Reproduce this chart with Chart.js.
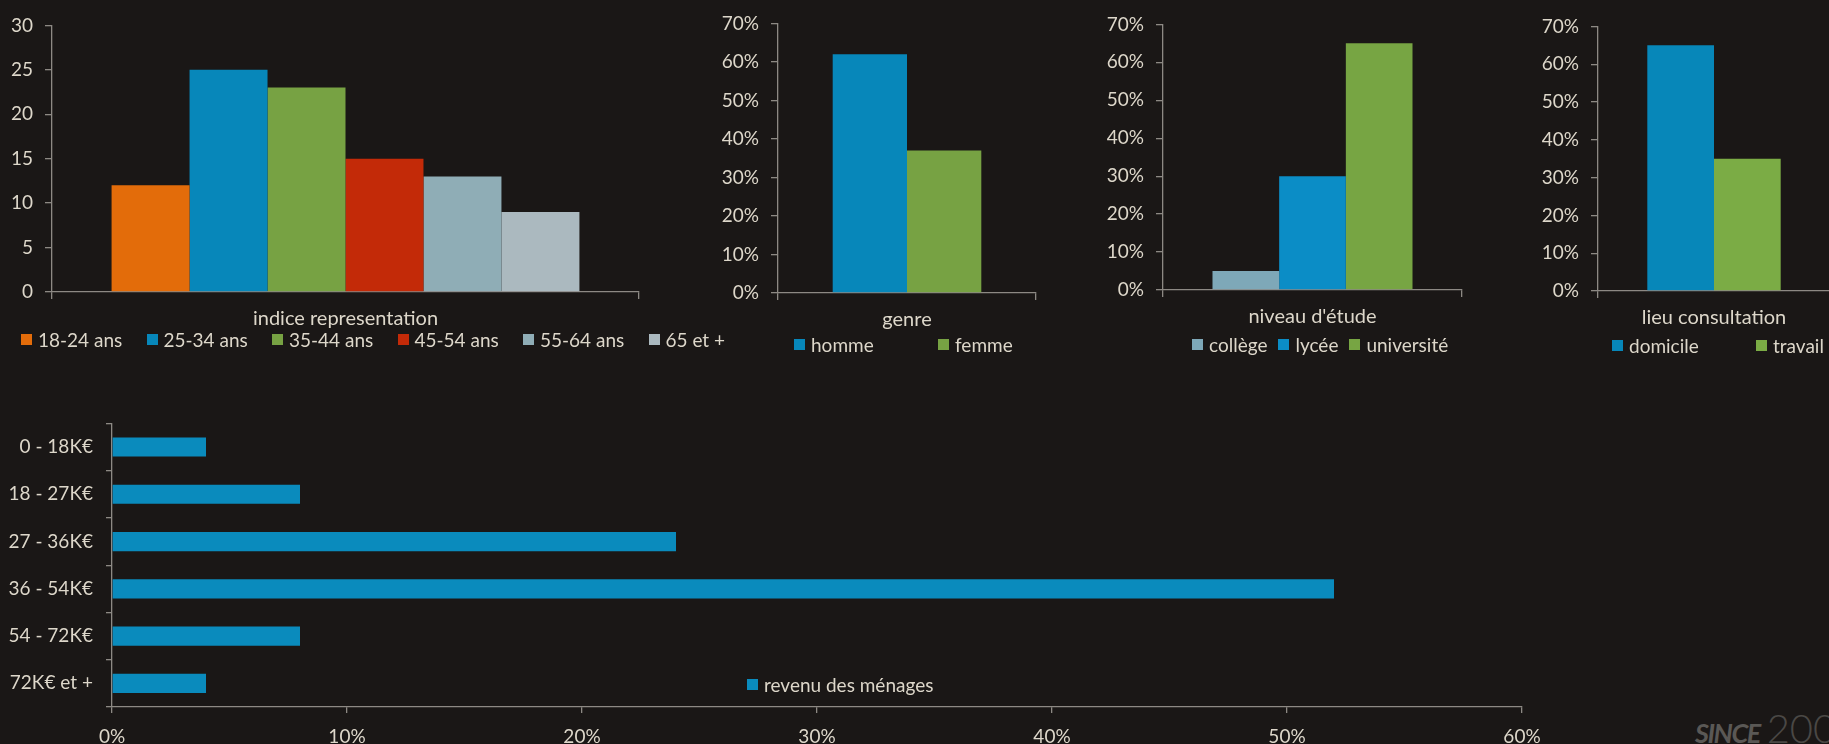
<!DOCTYPE html>
<html>
<head>
<meta charset="utf-8">
<script src="https://cdn.jsdelivr.net/npm/chart.js@4.4.0/dist/chart.umd.min.js"></script>
<style>
  body { margin: 0; width: 1829px; height: 744px; overflow: hidden; position: relative;
         background: #1a1716; font-family: Lato, "Open Sans", sans-serif; color: #ddd7ca; }
  .wrap { position: absolute; }
  .legend { position: absolute; display: flex; font-size: 19px; line-height: 19px; white-space: nowrap; }
  .legend .item { display: inline-flex; align-items: center; }
  .legend i { display: inline-block; width: 11px; height: 11px; margin-right: 6px; }
  .since { position: absolute; left: 1695px; top: 704px; white-space: nowrap; color: #5a5855; }
  .since b { font-style: italic; font-size: 27px; letter-spacing: -1.5px; }
  .since span { font-weight: 300; font-size: 40px; color: #4a4845; margin-left: 7px; }
</style>
</head>
<body>

<div class="wrap" id="w1"><canvas id="c1"></canvas></div>
<div class="wrap" id="w2"><canvas id="c2"></canvas></div>
<div class="wrap" id="w3"><canvas id="c3"></canvas></div>
<div class="wrap" id="w4"><canvas id="c4"></canvas></div>
<div class="wrap" id="w5"><canvas id="c5"></canvas></div>
<div class="since"><b>SINCE</b><span>200</span></div>

<script>
// --- data ---
const ageCategory = 'indice representation';
const ageLabels = ['18-24 ans', '25-34 ans', '35-44 ans', '45-54 ans', '55-64 ans', '65 et +'];
const ageValues = [12, 25, 23, 15, 13, 9];
const ageColors = ['#e36c0a', '#0787ba', '#77a243', '#c32a08', '#8fadb6', '#abb9bf'];
const ageTicks = [0, 5, 10, 15, 20, 25, 30];

const genreCategory = 'genre';
const genreLabels = ['homme', 'femme'];
const genreValues = [62, 37];
const genreColors = ['#0787ba', '#77a243'];

const etudeCategory = "niveau d'étude";
const etudeLabels = ['collège', 'lycée', 'université'];
const etudeValues = [5, 30, 65];
const etudeColors = ['#7ea8b8', '#0b8dc6', '#77a543'];

const lieuCategory = 'lieu consultation';
const lieuLabels = ['domicile', 'travail'];
const lieuValues = [65, 35];
const lieuColors = ['#0787b9', '#7bac45'];

const pctTicks = [0, 10, 20, 30, 40, 50, 60, 70];

const revenuSeries = 'revenu des ménages';
const revenuLabels = ['0 - 18K€', '18 - 27K€', '27 - 36K€', '36 - 54K€', '54 - 72K€', '72K€ et +'];
const revenuValues = [4, 8, 24, 52, 8, 4];
const revenuColor = '#0a8bbd';
const revenuTicks = [0, 10, 20, 30, 40, 50, 60];

// --- style ---
const TEXT = '#ddd7ca';
const AXIS = '#8d8984';
Chart.defaults.font.family = 'Lato, "Open Sans", sans-serif';
Chart.defaults.font.size = 19;
Chart.defaults.color = TEXT;
Chart.defaults.animation = false;

function place(id, plot, m) {
  const w = document.getElementById(id);
  w.style.left = (plot[0] - m.left) + 'px';
  w.style.top = (plot[1] - m.top) + 'px';
  w.style.width = (plot[2] - plot[0] + m.left + m.right) + 'px';
  w.style.height = (plot[3] - plot[1] + m.top + m.bottom) + 'px';
}

function axisGrid(len) {
  return { drawOnChartArea: false, drawTicks: true, tickLength: len, color: AXIS, lineWidth: 1.3 };
}

function columnChart(n, plot, category, names, values, colors, ticks, pct, catPct) {
  const m = { left: 60, top: 20, right: 12, bottom: 45 };
  place('w' + n, plot, m);
  new Chart(document.getElementById('c' + n), {
    type: 'bar',
    data: {
      labels: [category],
      datasets: names.map((name, i) => ({
        label: name,
        data: [values[i]],
        backgroundColor: colors[i],
        borderWidth: 0,
        categoryPercentage: catPct,
        barPercentage: 1
      }))
    },
    options: {
      responsive: true,
      maintainAspectRatio: false,
      layout: { padding: { top: m.top, right: m.right, left: 0, bottom: 0 } },
      plugins: { legend: { display: false }, tooltip: { enabled: false } },
      scales: {
        x: {
          grid: Object.assign(axisGrid(7), { offset: true }),
          border: { color: AXIS, width: 1.3 },
          ticks: { padding: 8, color: TEXT, font: { size: 20 } },
          afterFit: s => { s.height = m.bottom; }
        },
        y: {
          min: ticks[0],
          max: ticks[ticks.length - 1],
          grid: axisGrid(7),
          border: { color: AXIS, width: 1.3 },
          ticks: { stepSize: ticks[1] - ticks[0], padding: 12, color: TEXT,
                   callback: v => pct ? v + '%' : v },
          afterFit: s => { s.width = m.left; }
        }
      }
    }
  });
}

function legend(x, y, names, colors, slot, gap) {
  const el = document.createElement('div');
  el.className = 'legend';
  el.style.left = x + 'px';
  el.style.top = y + 'px';
  names.forEach((name, i) => {
    const it = document.createElement('span');
    it.className = 'item';
    if (slot) it.style.width = slot + 'px';
    else it.style.marginRight = gap + 'px';
    const sw = document.createElement('i');
    sw.style.background = colors[i];
    it.appendChild(sw);
    it.appendChild(document.createTextNode(name));
    el.appendChild(it);
  });
  document.body.appendChild(el);
}

columnChart(1, [52, 22, 639, 292], ageCategory, ageLabels, ageValues, ageColors, ageTicks, false, 0.797);
columnChart(2, [778, 20, 1036, 293], genreCategory, genreLabels, genreValues, genreColors, pctTicks, true, 0.576);
columnChart(3, [1163, 21, 1462, 290], etudeCategory, etudeLabels, etudeValues, etudeColors, pctTicks, true, 0.669);
columnChart(4, [1598, 23, 1830, 291], lieuCategory, lieuLabels, lieuValues, lieuColors, pctTicks, true, 0.575);

legend(21, 330, ageLabels, ageColors, 125.5);
legend(794, 335, genreLabels, genreColors, 144);
legend(1192, 335, etudeLabels, etudeColors, 0, 11);
legend(1612, 336, lieuLabels, lieuColors, 144);
legend(747, 675, [revenuSeries], [revenuColor], 0, 0);

// bottom horizontal bar chart
(function () {
  const plot = [112, 411, 1522, 707];
  const m = { left: 112, top: 12, right: 40, bottom: 37 };
  place('w5', plot, m);
  new Chart(document.getElementById('c5'), {
    type: 'bar',
    data: {
      labels: revenuLabels,
      datasets: [{
        label: revenuSeries,
        data: revenuValues,
        backgroundColor: revenuColor,
        borderWidth: 0,
        categoryPercentage: 1,
        barPercentage: 0.405
      }]
    },
    options: {
      indexAxis: 'y',
      responsive: true,
      maintainAspectRatio: false,
      layout: { padding: { top: m.top, right: m.right, left: 0, bottom: 0 } },
      plugins: { legend: { display: false }, tooltip: { enabled: false } },
      scales: {
        y: {
          grid: Object.assign(axisGrid(6), { offset: true }),
          border: { color: AXIS, width: 1.3 },
          ticks: { padding: 13, color: TEXT },
          afterFit: s => { s.width = m.left; }
        },
        x: {
          min: revenuTicks[0],
          max: revenuTicks[revenuTicks.length - 1],
          grid: axisGrid(6),
          border: { color: AXIS, width: 1.3 },
          ticks: { stepSize: revenuTicks[1] - revenuTicks[0], padding: 12, color: TEXT,
                   callback: v => v + '%' },
          afterFit: s => { s.height = m.bottom; }
        }
      }
    }
  });
})();
</script>
</body>
</html>
